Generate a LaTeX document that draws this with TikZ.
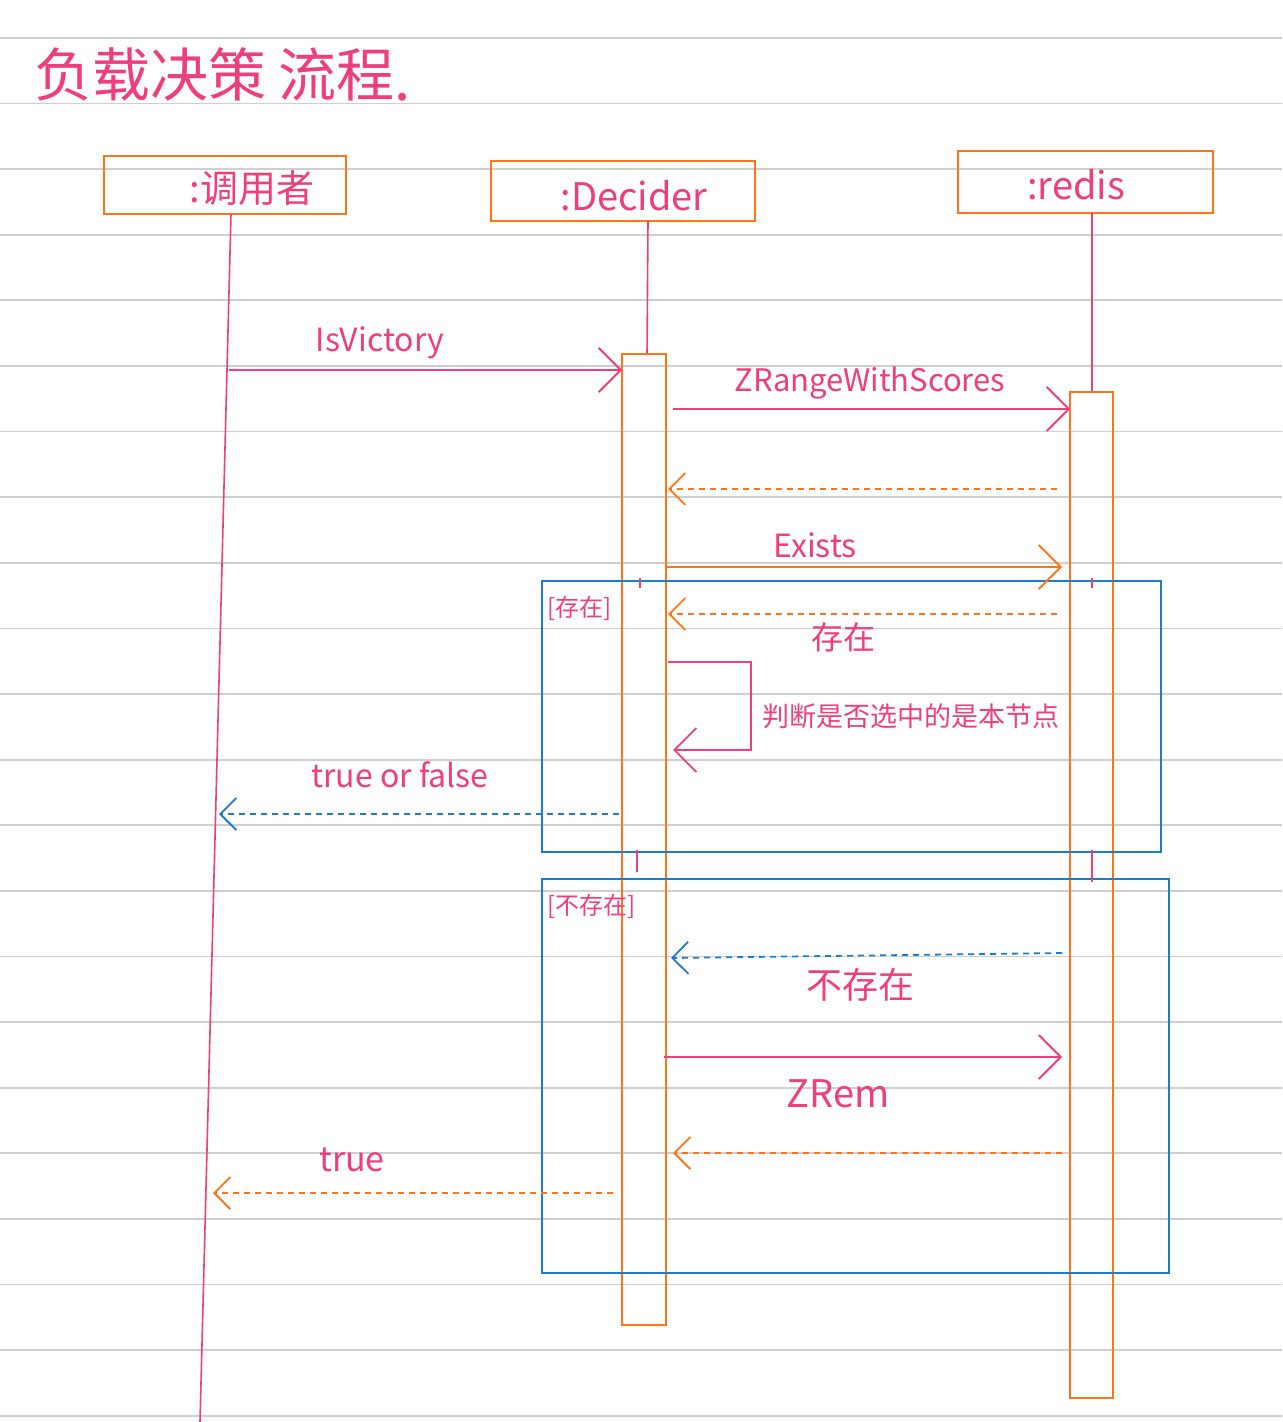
\documentclass[tikz,border=0pt]{standalone}
\usepackage{fontspec}
\setmainfont{Noto Sans CJK SC}
\usetikzlibrary{arrows.meta}
\definecolor{pk}{HTML}{EE3F7C}
\definecolor{og}{HTML}{FF7417}
\definecolor{bl}{HTML}{1D7DCB}
\definecolor{rule}{HTML}{CFCFCF}
\tikzset{
  lbox/.style={draw=og, line width=1.2pt},
  act/.style={draw=og, line width=1.2pt, fill=none},
  lifeline/.style={draw=pk, line width=0.8pt},
  frag/.style={draw=bl, line width=1pt},
  msg/.style={line width=0.9pt, -{Straight Barb[length=11pt,width=22pt,line width=0.9pt]}},
  ret/.style={line width=0.9pt, dashed, dash pattern=on 3pt off 2.5pt, -{Straight Barb[length=8pt,width=16pt,line width=0.9pt]}},
  lab/.style={text=pk, inner sep=0pt},
}
\begin{document}
\begin{tikzpicture}[x=0.5pt,y=-0.5pt]
\useasboundingbox (0,0) rectangle (1282,1422);
\fill[white] (0,0) rectangle (1282,1422);
% ruled paper lines
\foreach \yy in {38,103.6,169.2,234.8,300.4,366,431.6,497.2,562.8,628.4,694,759.6,825.2,890.8,956.4,1022,1087.6,1153.2,1218.8,1284.4,1350,1415.6}
  \draw[rule, line width=0.9pt] (0,\yy) -- (1282,\yy);
% title
\node[lab, anchor=west, font=\fontsize{29}{31}\selectfont] (title) at (34,74) {负载决策\hspace{6pt}流程\raisebox{-2pt}{.}};
% lifeline heads
\draw[lbox] (104,156) rectangle (346,214);
\node[lab, font=\fontsize{19}{20}\selectfont] (caller) at (252,188) {:调用者};
\draw[lbox] (491,161) rectangle (755,221);
\node[lab, font=\fontsize{19}{20}\selectfont] (decider) at (634,196) {:Decider};
\draw[lbox] (958,151) rectangle (1213,213);
\node[lab, font=\fontsize{19}{20}\selectfont] (redis) at (1076,185) {:redis};
% lifelines
\coordinate (cTop) at (231,214);
\coordinate (cBot) at (200,1422);
\draw[lifeline] (cTop) -- (cBot);
\coordinate (dTop) at (648,221);
\coordinate (dAct) at (647,354);
\draw[lifeline] (dTop) -- (dAct);
\coordinate (rTop) at (1092,213);
\coordinate (rAct) at (1092,392);
\draw[lifeline] (rTop) -- (rAct);
% activations
\draw[act] (622,354) rectangle (666,1325);
\draw[act] (1070,392) rectangle (1113,1398);
% fragments
\draw[frag] (542,581) rectangle (1161,852);
\node[lab, font=\fontsize{12}{13}\selectfont, anchor=west] (g1) at (547,608) {[存在]};
\draw[frag] (542,879) rectangle (1169,1273);
\node[lab, font=\fontsize{12}{13}\selectfont, anchor=west] (g2) at (547,906) {[不存在]};
% lifeline traces inside fragments
\draw[lifeline] (640,578) -- (640,588);
\draw[lifeline] (1092,578) -- (1092,588);
\draw[lifeline] (637,850) -- (637,872);
\draw[lifeline] (1092,850) -- (1092,882);
% messages
\coordinate (m1a) at (229,370); \coordinate (m1b) at (622,370);
\draw[msg, pk] (m1a) -- (m1b);
\node[lab, font=\fontsize{16}{17}\selectfont] (l1) at (380,343) {IsVictory};
\coordinate (m2a) at (673,409); \coordinate (m2b) at (1070,409);
\draw[msg, pk] (m2a) -- (m2b);
\node[lab, font=\fontsize{15.5}{16}\selectfont] (l2) at (870,383) {ZRangeWithScores};
\coordinate (r1a) at (1057,489); \coordinate (r1b) at (668,489);
\draw[ret, og] (r1a) -- (r1b);
\coordinate (m3a) at (666,567); \coordinate (m3b) at (1062,567);
\draw[msg, og] (m3a) -- (m3b);
\node[lab, font=\fontsize{16}{17}\selectfont] (l3) at (815,545) {Exists};
\coordinate (r2a) at (1057,614); \coordinate (r2b) at (668,614);
\draw[ret, og] (r2a) -- (r2b);
\node[lab, font=\fontsize{16}{17}\selectfont] (l4) at (843,637) {存在};
% self call
\coordinate (s1) at (668,662); \coordinate (s2) at (751,662);
\coordinate (s3) at (751,750); \coordinate (s4) at (673,750);
\draw[msg, pk, line width=0.8pt] (s1) -- (s2) -- (s3) -- (s4);
\node[lab, font=\fontsize{13.5}{14}\selectfont, anchor=west] (l5) at (762,716) {判断是否选中的是本节点};
% true or false
\coordinate (r3a) at (619,814); \coordinate (r3b) at (219,814);
\draw[ret, bl] (r3a) -- (r3b);
\node[lab, font=\fontsize{16}{17}\selectfont] (l6) at (400,775) {true or false};
% not exist
\coordinate (r4a) at (1062,953); \coordinate (r4b) at (671,958);
\draw[ret, bl] (r4a) -- (r4b);
\node[lab, font=\fontsize{18}{19}\selectfont] (l7) at (860,985) {不存在};
\coordinate (m4a) at (664,1057); \coordinate (m4b) at (1062,1057);
\draw[msg, pk] (m4a) -- (m4b);
\node[lab, font=\fontsize{19}{20}\selectfont] (l8) at (838,1094) {ZRem};
\coordinate (r5a) at (1062,1153); \coordinate (r5b) at (673,1153);
\draw[ret, og] (r5a) -- (r5b);
\coordinate (r6a) at (613,1193); \coordinate (r6b) at (213,1193);
\draw[ret, og] (r6a) -- (r6b);
\node[lab, font=\fontsize{17}{18}\selectfont] (l9) at (352,1160) {true};
\end{tikzpicture}
\end{document}
